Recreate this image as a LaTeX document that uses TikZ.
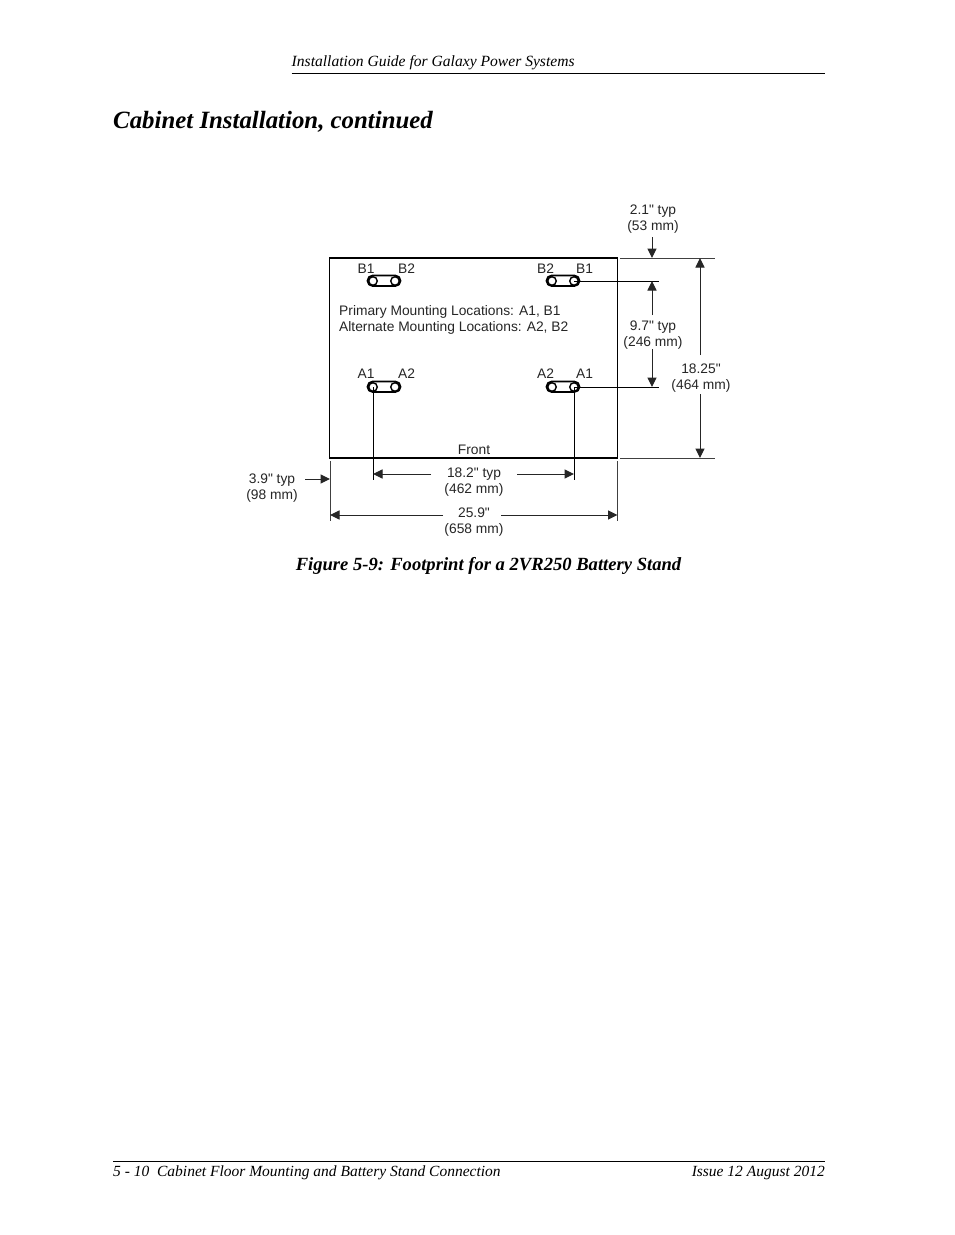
\documentclass[tikz,border=0pt]{standalone}
\usepackage{fontspec}
\setmainfont{Liberation Serif}
\newfontfamily\dimfont{Liberation Sans}
\usetikzlibrary{arrows.meta}
\tikzset{
  x=1pt,y=-1pt,
  lbl/.style={font=\dimfont\fontsize{13.8}{16}\selectfont,inner sep=0pt,text=black!85,align=center},
  head/.style={inner sep=0pt,anchor=base west},
  thinl/.style={draw=black,line width=1pt},
  ext/.style={draw=black!75,line width=0.8pt},
  dimarrow/.style={draw=black!85,line width=1pt,-{Triangle[length=9.5pt,width=9pt]}},
  slot/.style={draw=black,line width=1.8pt,rounded corners=5.2pt},
  hole/.style={circle,draw=black,line width=1.4pt,fill=white,minimum size=8.5pt,inner sep=0pt},
}
\begin{document}
\begin{tikzpicture}
\useasboundingbox (0,0) rectangle (954,1235);
\fill[white] (0,0) rectangle (954,1235);
% page furniture
\node[head,font=\itshape\fontsize{15.6}{18}\selectfont] (hdr) at (291.5,66) {Installation Guide for Galaxy Power Systems};
\coordinate (hl) at (291.5,73.5); \coordinate (hr) at (825,73.5);
\draw[black,line width=1pt] (hl) -- (hr);
\node[head,font=\bfseries\itshape\fontsize{24.85}{29}\selectfont] (title) at (113,128) {Cabinet Installation, continued};
\node[head,font=\bfseries\itshape\fontsize{18.6}{21}\selectfont,anchor=base] (cap) at (488.5,570) {Figure 5-9: Footprint for a 2VR250 Battery Stand};
\coordinate (fl) at (113,1161.5); \coordinate (fr) at (825,1161.5);
\draw[black,line width=1pt] (fl) -- (fr);
\node[head,font=\itshape\fontsize{15.5}{18}\selectfont] (foot) at (113,1176) {5 - 10\ \ Cabinet Floor Mounting and Battery Stand Connection};
\node[head,font=\itshape\fontsize{15.5}{18}\selectfont,anchor=base east] (issue) at (825,1176) {Issue 12 August 2012};
% cabinet
\node[draw=black,line width=1.5pt,outer sep=0pt,minimum width=288pt,minimum height=200pt,inner sep=0pt,anchor=north west] (cab) at (329.7,258) {};
% slots
\draw[slot] (367.5,275.5) rectangle (400.5,286) ;
\draw[slot] (546.5,275.5) rectangle (579.5,286) ;
\draw[slot] (367.5,381.5) rectangle (400.5,392) ;
\draw[slot] (546.5,381.5) rectangle (579.5,392) ;
\node[hole] (b1l) at (373,281) {};
\node[hole] (b2l) at (395,281) {};
\node[hole] (b2r) at (552,281) {};
\node[hole] (b1r) at (574,281) {};
\node[hole] (a1l) at (373,387) {};
\node[hole] (a2l) at (395,387) {};
\node[hole] (a2r) at (552,387) {};
\node[hole] (a1r) at (574,387) {};
\node[lbl] at (366,268.5) {B1};
\node[lbl] at (406.5,268.5) {B2};
\node[lbl] at (545.5,268.5) {B2};
\node[lbl] at (584.5,268.5) {B1};
\node[lbl] at (366,373.6) {A1};
\node[lbl] at (406.5,373.6) {A2};
\node[lbl] at (545.5,373.6) {A2};
\node[lbl] at (584.5,373.6) {A1};
\node[lbl,anchor=west,align=left] (note) at (339,319.5) {Primary Mounting Locations: A1, B1\\Alternate Mounting Locations: A2, B2};
\node[lbl] (front) at (474,450) {Front};
% named free ends
\coordinate (ctop) at (620,258); \coordinate (ctopr) at (715,258);
\coordinate (cbot) at (620,458); \coordinate (cbotr) at (715,458);
\coordinate (b1e) at (659,281); \coordinate (a1e) at (659,387);
\coordinate (v1) at (373,480); \coordinate (v2) at (574,480);
\coordinate (l1) at (330,461); \coordinate (l2) at (330,521);
\coordinate (r1) at (617.5,461); \coordinate (r2) at (617.5,521);
% leaders
\draw[ext] (ctop) -- (ctopr);
\draw[ext] (cbot) -- (cbotr);
\draw[thinl] (b1r.center) -- (b1e);
\draw[thinl] (a1r.center) -- (a1e);
\draw[thinl] (a1l.center) -- (v1);
\draw[thinl] (a1r.center) -- (v2);
\draw[ext] (l1) -- (l2);
\draw[ext] (r1) -- (r2);
% labels
\node[lbl] (d21) at (653,219) {2.1" typ\\(53 mm)};
\node[lbl] (d97) at (653,335) {9.7" typ\\(246 mm)};
\node[lbl] (d1825) at (701,378) {18.25"\\(464 mm)};
\node[lbl] (d182) at (474,482) {18.2" typ\\(462 mm)};
\node[lbl] (d259) at (474,522) {25.9"\\(658 mm)};
\node[lbl] (d39) at (272,488.5) {3.9" typ\\(98 mm)};
% arrows
\coordinate (a21s) at (652,237); \coordinate (a21e) at (652,258);
\draw[dimarrow] (a21s) -- (a21e);
\coordinate (a97a) at (652,315); \coordinate (a97b) at (652,281);
\coordinate (a97c) at (652,349); \coordinate (a97d) at (652,387);
\draw[dimarrow] (a97a) -- (a97b);
\draw[dimarrow] (a97c) -- (a97d);
\coordinate (a18a) at (700,355); \coordinate (a18b) at (700,258);
\coordinate (a18c) at (700,394); \coordinate (a18d) at (700,458);
\draw[dimarrow] (a18a) -- (a18b);
\draw[dimarrow] (a18c) -- (a18d);
\coordinate (h1a) at (431,474); \coordinate (h1b) at (373,474);
\coordinate (h1c) at (517,474); \coordinate (h1d) at (574,474);
\draw[dimarrow] (h1a) -- (h1b);
\draw[dimarrow] (h1c) -- (h1d);
\coordinate (h2a) at (443,515); \coordinate (h2b) at (330,515);
\coordinate (h2c) at (501,515); \coordinate (h2d) at (617.5,515);
\draw[dimarrow] (h2a) -- (h2b);
\draw[dimarrow] (h2c) -- (h2d);
\coordinate (h3a) at (305,479); \coordinate (h3b) at (330,479);
\draw[dimarrow] (h3a) -- (h3b);
\end{tikzpicture}
\end{document}
